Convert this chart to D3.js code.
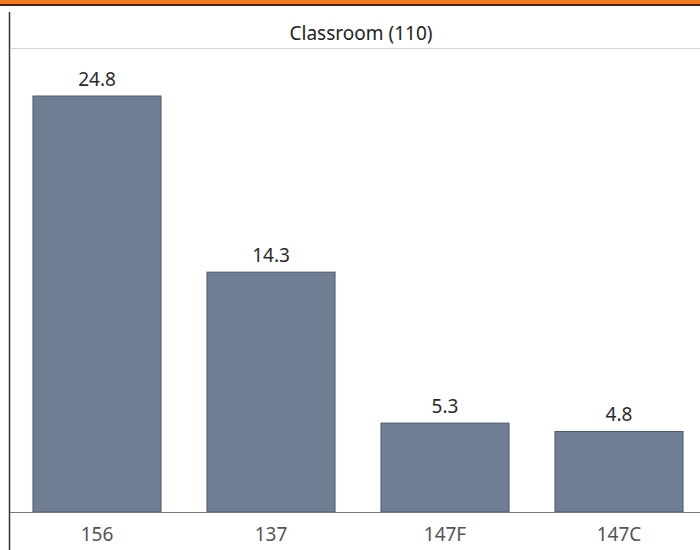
<!DOCTYPE html>
<html>
<head>
<meta charset="utf-8">
<script src="https://cdn.jsdelivr.net/npm/d3@7"></script>
<style>
  body { margin: 0; background: #fff; }
  svg { display: block; font-family: "Noto Sans", "Open Sans", sans-serif; }
</style>
</head>
<body>
<div id="chart"></div>
<script>
const width = 700;
const height = 550;

const rooms = ["156", "137", "147F", "147C"];
const hours = [24.8, 14.3, 5.3, 4.8];
const panelTitle = "Classroom (110)";

const baseline = 512;

const svg = d3.select("#chart")
    .append("svg")
    .attr("width", width)
    .attr("height", height);

// orange header strip cut off at the top
svg.append("rect")
    .attr("x", 0)
    .attr("y", 0)
    .attr("width", width)
    .attr("height", 4)
    .attr("fill", "#f47c20");

svg.append("line")
    .attr("x1", 0).attr("x2", width)
    .attr("y1", 5).attr("y2", 5)
    .attr("stroke", "#4a2410")
    .attr("stroke-width", 2);

// left frame line
svg.append("line")
    .attr("x1", 9.5).attr("x2", 9.5)
    .attr("y1", 12).attr("y2", height)
    .attr("stroke", "#333")
    .attr("stroke-width", 1.5);

svg.append("text")
    .attr("x", 361)
    .attr("y", 40)
    .attr("text-anchor", "middle")
    .style("font-size", "19px")
    .style("fill", "#222")
    .text(panelTitle);

svg.append("line")
    .attr("x1", 10).attr("x2", width)
    .attr("y1", 48.5).attr("y2", 48.5)
    .attr("stroke", "#d4d4d4")
    .attr("stroke-width", 1);

const x = d3.scaleBand()
    .domain(rooms)
    .range([10, 706])
    .paddingInner(0.264)
    .paddingOuter(0.132);

const y = d3.scaleLinear()
    .domain([0, 24.8])
    .range([baseline, 96]);

const data = rooms.map((r, i) => ({ room: r, value: hours[i] }));

svg.selectAll(".bar")
    .data(data)
    .enter()
    .append("rect")
    .attr("class", "bar")
    .attr("x", d => x(d.room))
    .attr("y", d => y(d.value))
    .attr("width", x.bandwidth())
    .attr("height", d => baseline - y(d.value))
    .attr("fill", "#6f7e94")
    .attr("stroke", "#4e5a6b")
    .attr("stroke-width", 1);

svg.selectAll(".value-label")
    .data(data)
    .enter()
    .append("text")
    .attr("class", "value-label")
    .attr("x", d => x(d.room) + x.bandwidth() / 2)
    .attr("y", d => y(d.value) - 10)
    .attr("text-anchor", "middle")
    .style("font-size", "19px")
    .style("fill", "#2a2a2a")
    .text(d => d.value.toFixed(1));

// baseline
svg.append("line")
    .attr("x1", 10).attr("x2", width)
    .attr("y1", baseline + 0.5).attr("y2", baseline + 0.5)
    .attr("stroke", "#777")
    .attr("stroke-width", 1);

const xAxis = svg.append("g")
    .attr("transform", `translate(0,${baseline})`)
    .call(d3.axisBottom(x).tickSize(0).tickPadding(16));

xAxis.select(".domain").remove();
xAxis.selectAll("text")
    .style("font-size", "19px")
    .style("font-family", "\"Noto Sans\", sans-serif")
    .style("fill", "#555");
</script>
</body>
</html>
